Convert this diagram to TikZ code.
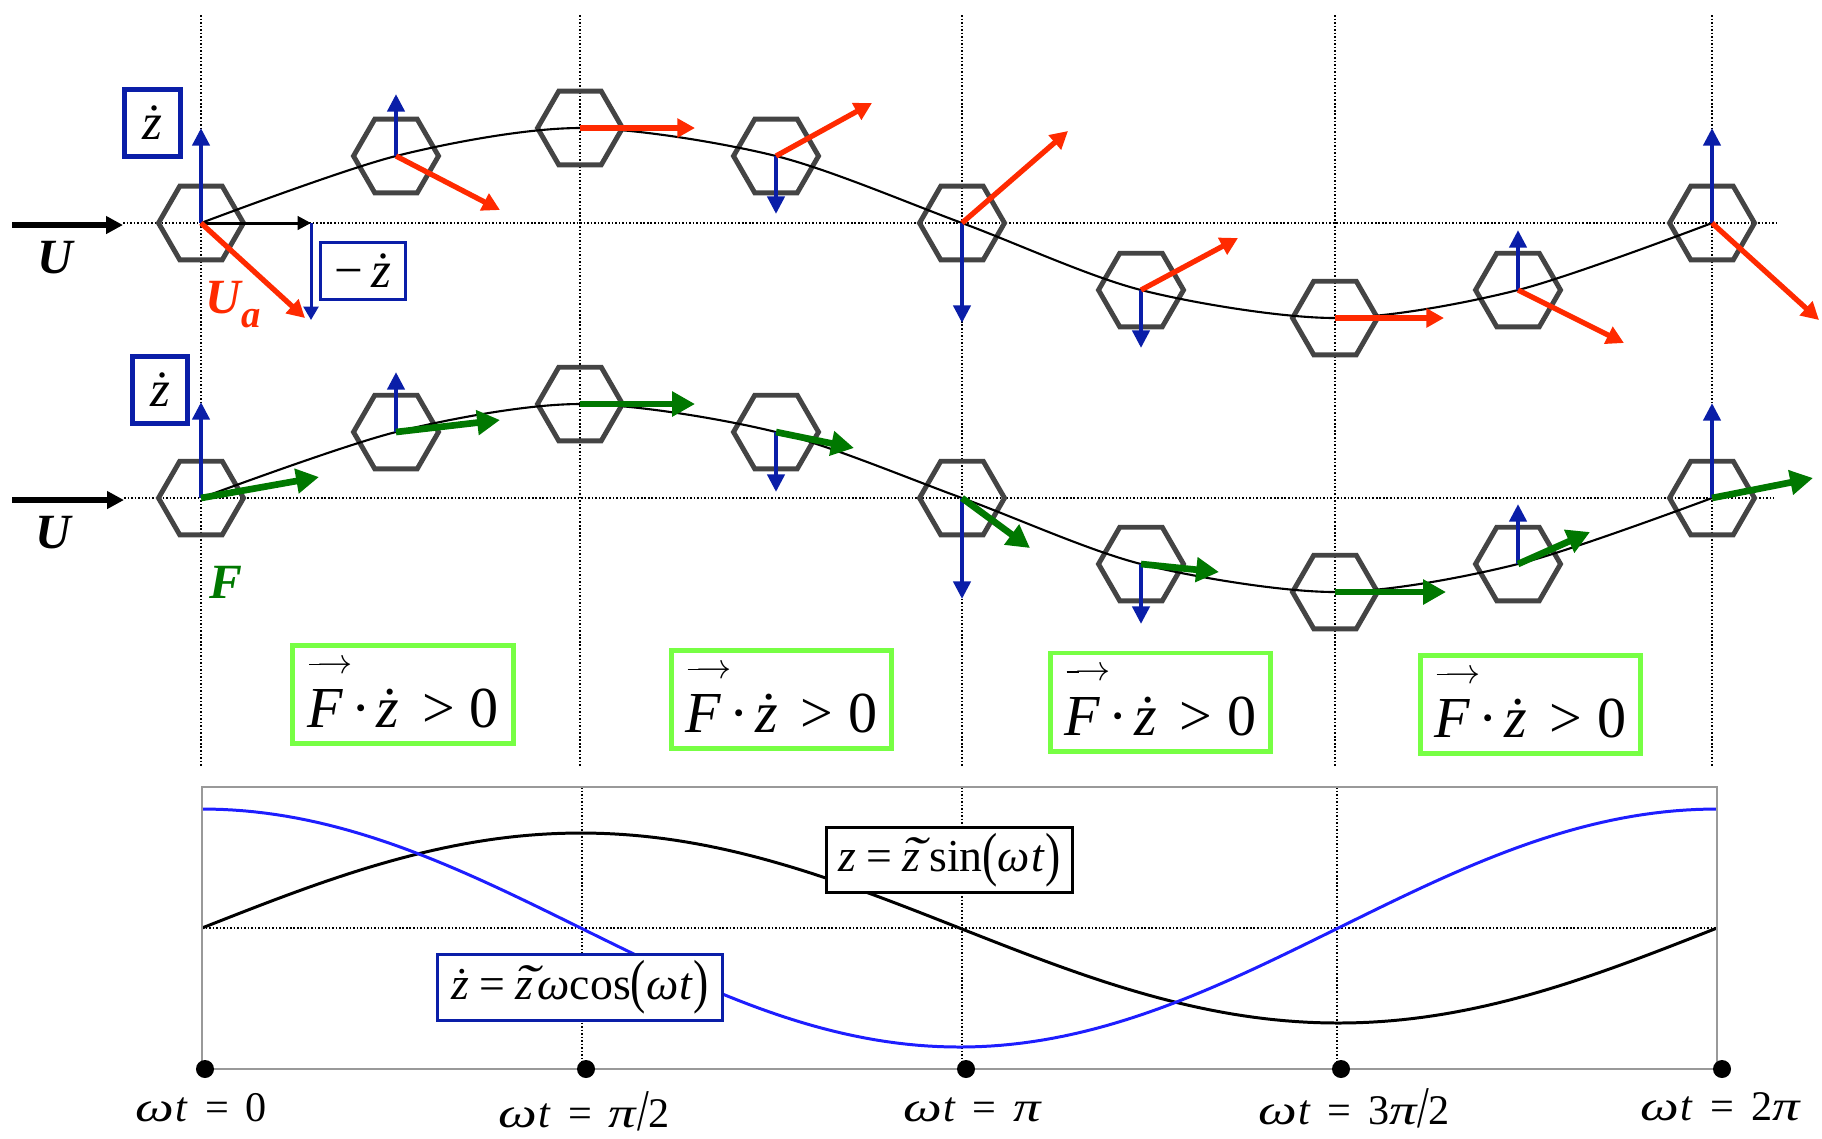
\documentclass[tikz,border=0pt]{standalone}
\usepackage{fontspec}
\setmainfont{Liberation Serif}
\usepackage{graphicx}
\usetikzlibrary{arrows.meta}

\definecolor{hexgray}{HTML}{444444}
\definecolor{zblue}{HTML}{0A1EA8}
\definecolor{ured}{HTML}{FF2A00}
\definecolor{fgreen}{HTML}{007800}
\definecolor{boxgreen}{HTML}{77FF44}
\definecolor{cblue}{HTML}{1E1EFF}
\definecolor{framegray}{HTML}{999999}

\newcommand\om{\scalebox{1.3}[1]{\itshape ω}}
\newcommand\pii{\scalebox{1.3}[1]{\itshape π}}
\newcommand\wt{\om\kern0.04em\textit{t}}
\newcommand\eqs{\hspace{0.4em}=\hspace{0.4em}}
\newcommand\eqb{\hspace{0.22em}=\hspace{0.22em}}
\newcommand\slsh{\raisebox{-0.08em}{\scalebox{1}[1.4]{/}}}
\newcommand\bp[1]{\raisebox{-0.06em}{\scalebox{1}[1.3]{#1}}}
\newcommand\ztil{\ooalign{z\cr\hidewidth\kern0.12em\scalebox{1.6}[1.1]{\char"02DC}\hidewidth\cr}}
\newcommand\vF{\rlap{\raisebox{15.5pt}{\kern0.5pt\hbox{\fontsize{10}{10}\selectfont\rule[2.3pt]{3.5pt}{0.4pt}\kern-1pt$\rightarrow$}}}\textit{F}}
\newcommand\fdot{\vF\hspace{0.14em}·\hspace{0.1em}\textit{ż}\hspace{0.4em}>\hspace{0.25em}0}

\begin{document}
\begin{tikzpicture}[x=0.01cm,y=-0.01cm,
  dotl/.style={line width=0.45pt, dash pattern=on 0.45pt off 0.55pt},
  hexa/.style={draw=hexgray, line width=1.4pt},
  redar/.style={color=ured, line width=1.5pt, -{Triangle[length=5pt,width=5.2pt]}},
  bluear/.style={color=zblue, line width=1.4pt, -{Triangle[length=5pt,width=4.8pt]}},
  greenar/.style={color=fgreen, line width=1.9pt, -{Triangle[length=6.5pt,width=6.8pt]}},
  bigU/.style={color=black, line width=1.5pt, -{Triangle[length=4.8pt,width=4.8pt]}},
  thinU/.style={color=black, line width=0.85pt, -{Triangle[length=3.8pt,width=3.8pt]}},
  thinz/.style={color=zblue, line width=0.85pt, -{Triangle[length=3.8pt,width=4.2pt]}},
  ulab/.style={inner sep=0pt, font=\fontsize{14}{16}\selectfont\bfseries\itshape},
  zbox/.style={draw=zblue, line width=1.4pt, fill=white, inner sep=0pt, font=\fontsize{14.5}{16}\selectfont},
  gbox/.style={draw=boxgreen, line width=1.42pt, fill=white, inner sep=0pt, minimum width=2.2cm, minimum height=0.98cm, font=\fontsize{16.5}{18}\selectfont},
  ebox/.style={fill=white, line width=0.85pt, inner sep=0pt, font=\fontsize{13}{15}\selectfont},
  blab/.style={inner sep=0pt, anchor=base, font=\fontsize{12}{14}\selectfont},
  pdot/.style={circle, fill=black, inner sep=0pt, minimum size=0.18cm}]

\fill[white] (0,0) rectangle (1822,1138);
\useasboundingbox (0,0) rectangle (1822,1138);

% guide lines
\foreach \x in {201,580,962,1335,1712} \draw[dotl] (\x,15) -- (\x,766);
\draw[dotl] (123,223) -- (1776,223);
\draw[dotl] (124,498) -- (1774,498);

% ---------- bottom plot ----------
\draw[dotl] (202,928) -- (1717,928);
\foreach \x in {582,962,1337} \draw[dotl] (\x,787) -- (\x,1069);
\draw[black, line width=0.85pt] plot[domain=0:360,samples=145] ({202+4.20833*\x},{928-95*sin(\x)});
\draw[cblue, line width=0.85pt] plot[domain=0:360,samples=145] ({202+4.20833*\x},{928-119*cos(\x)});
\draw[framegray, line width=0.75pt] (202,787) rectangle (1717,1069);
\node[ebox, draw=black, minimum width=2.46cm, minimum height=0.65cm] (ez) at (949.5,860)
  {\textit{z}\eqb\textit{\ztil}\hspace{0.2em}sin\bp{(}\textit{ω\kern0.03em t}\bp{)}};
\node[ebox, draw=zblue, minimum width=2.85cm, minimum height=0.66cm] (ezd) at (580,987.5)
  {\textit{ż}\eqb\textit{\ztil}\hspace{0.1em}\textit{ω}cos\bp{(}\textit{ω\kern0.03em t}\bp{)}};
\node[pdot] (d1) at (205,1069) {};
\node[pdot] (d2) at (586,1069) {};
\node[pdot] (d3) at (966,1069) {};
\node[pdot] (d4) at (1341,1069) {};
\node[pdot] (d5) at (1722,1069) {};
\node[blab] (l0) at (201,1121) {\wt\eqs 0};
\node[blab] (l1) at (584,1127) {\wt\eqs\pii\kern0.02em\slsh2};
\node[blab] (l2) at (972,1121) {\wt\eqs\pii};
\node[blab] (l3) at (1354,1124) {\wt\eqs 3\pii\slsh2};
\node[blab] (l4) at (1720,1120) {\wt\eqs 2\pii};

% ---------- hexagon centres ----------
\foreach \n/\x/\y in {1/201/223,2/396/156,3/580/128,4/776/156,5/962/223,6/1141/290,7/1335/318,8/1518/290,9/1712/223}
  {\coordinate (a\n) at (\x,\y);}
\foreach \n/\x/\y in {1/201/498,2/396/432,3/580/404,4/776/432,5/962/498,6/1141/564,7/1335/592,8/1518/564,9/1712/498}
  {\coordinate (b\n) at (\x,\y);}

\foreach \n in {1,...,9} {
  \draw[hexa] (a\n) +(0:42.5) -- +(60:42.5) -- +(120:42.5) -- +(180:42.5) -- +(240:42.5) -- +(300:42.5) -- cycle;
  \draw[hexa] (b\n) +(0:42.5) -- +(60:42.5) -- +(120:42.5) -- +(180:42.5) -- +(240:42.5) -- +(300:42.5) -- cycle;
}

\draw[line width=0.6pt] plot[smooth] coordinates {(a1) (a2) (a3) (a4) (a5) (a6) (a7) (a8) (a9)};
\draw[line width=0.6pt] plot[smooth] coordinates {(b1) (b2) (b3) (b4) (b5) (b6) (b7) (b8) (b9)};

% ---------- row 1 ----------
\coordinate (u1s) at (12,225);
\coordinate (u1e) at (123,225);
\draw[bigU] (u1s) -- (u1e);
\coordinate (m1) at (311,223);
\draw[thinU] (a1) -- (m1);
\draw[thinz] (m1) -- ++(0,97);
\foreach \n/\dy in {1/-95,2/-62,4/58,5/100,6/58,8/-60,9/-95}
  \draw[bluear] (a\n) -- ++(0,\dy);
\foreach \n/\dx/\dy in {1/104/95,2/104/54,3/115/0,4/96/-53,5/106/-92,6/97/-52,7/109/0,8/106/53,9/107/97}
  \draw[redar] (a\n) -- ++(\dx,\dy);

% ---------- row 2 ----------
\coordinate (u2s) at (12,500);
\coordinate (u2e) at (124,500);
\draw[bigU] (u2s) -- (u2e);
\foreach \n/\dy in {1/-96,2/-60,4/60,5/101,6/60,8/-60,9/-95}
  \draw[bluear] (b\n) -- ++(0,\dy);
\foreach \n/\dx/\dy in {1/118/-21,2/104/-12,3/115/0,4/78/16,5/68/50,6/78/8,7/111/0,8/72/-32,9/101/-20}
  \draw[greenar] (b\n) -- ++(\dx,\dy);

% ---------- labels ----------
\node[zbox, minimum width=0.56cm, minimum height=0.67cm] (zd1) at (152.5,123) {\textit{ż}};
\node[zbox, line width=0.85pt, minimum width=0.85cm, minimum height=0.57cm] (mz) at (363,271) {−\hspace{0.15em}\textit{ż}};
\node[zbox, minimum width=0.55cm, minimum height=0.67cm] (zd2) at (160,390) {\textit{ż}};
\node[ulab, anchor=base] (U1) at (55,273) {U};
\node[ulab, anchor=base] (U2) at (53,548) {U};
\node[ulab, anchor=base west, text=ured] (Ua) at (205,313) {U\raisebox{-0.3em}{\fontsize{11}{12}\selectfont a}};
\node[ulab, anchor=base, text=fgreen] (Fl) at (226,598) {F};

\node[gbox] (g1) at (403,694.5) {\fdot};
\node[gbox] (g2) at (781.5,699.5) {\fdot};
\node[gbox] (g3) at (1160.5,702) {\fdot};
\node[gbox] (g4) at (1530.5,704.5) {\fdot};
\end{tikzpicture}
\end{document}
